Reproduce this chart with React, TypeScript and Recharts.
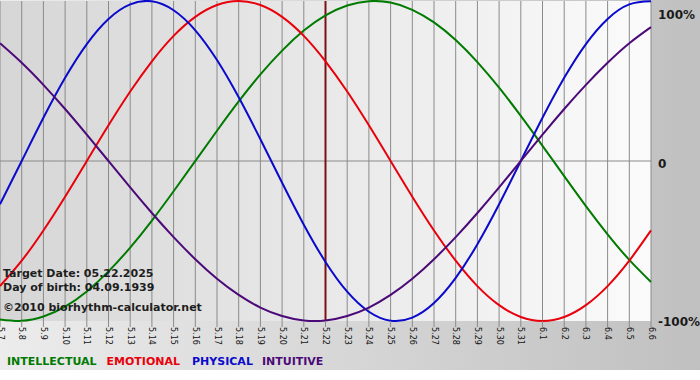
import React from "react";
import {
  LineChart,
  Line,
  XAxis,
  YAxis,
  CartesianGrid,
  ReferenceLine,
  Legend,
} from "recharts";

// one entry per day shown on the chart
const days = [
  "5.7", "5.8", "5.9", "5.10", "5.11", "5.12", "5.13", "5.14", "5.15", "5.16",
  "5.17", "5.18", "5.19", "5.20", "5.21", "5.22", "5.23", "5.24", "5.25", "5.26",
  "5.27", "5.28", "5.29", "5.30", "5.31", "6.1", "6.2", "6.3", "6.4", "6.5", "6.6",
];

const intellectual = [
  -0.99, -0.999, -0.972, -0.91, -0.815, -0.69, -0.541, -0.372, -0.189, 0.0,
  0.189, 0.372, 0.541, 0.69, 0.815, 0.91, 0.972, 0.999, 0.99, 0.945,
  0.866, 0.756, 0.618, 0.458, 0.282, 0.095, -0.095, -0.282, -0.458, -0.618, -0.756,
];

const emotional = [
  -0.782, -0.623, -0.434, -0.223, 0.0, 0.223, 0.434, 0.623, 0.782, 0.901,
  0.975, 1.0, 0.975, 0.901, 0.782, 0.623, 0.434, 0.223, 0.0, -0.223,
  -0.434, -0.623, -0.782, -0.901, -0.975, -1.0, -0.975, -0.901, -0.782, -0.623, -0.434,
];

const physical = [
  -0.27, 0.0, 0.27, 0.52, 0.731, 0.888, 0.979, 0.998, 0.942, 0.817,
  0.631, 0.398, 0.136, -0.136, -0.398, -0.631, -0.817, -0.942, -0.998, -0.979,
  -0.888, -0.731, -0.52, -0.27, 0.0, 0.27, 0.52, 0.731, 0.888, 0.979, 0.998,
];

const intuitive = [
  0.736, 0.614, 0.476, 0.325, 0.165, 0.0, -0.165, -0.325, -0.476, -0.614,
  -0.736, -0.837, -0.916, -0.969, -0.997, -0.997, -0.969, -0.916, -0.837, -0.736,
  -0.614, -0.476, -0.325, -0.165, 0.0, 0.165, 0.325, 0.476, 0.614, 0.736, 0.837,
];

const legendOrder = ["INTELLECTUAL", "EMOTIONAL", "PHYSICAL", "INTUITIVE"];
const legendGaps = [10, 12, 9, 0];
const yTicks = [-1, 0, 1];
const yTickLabels: Record<string, string> = { "1": "100%", "0": "0", "-1": "-100%" };
const targetDay = "5.22";
const infoLines = [
  "Target Date: 05.22.2025",
  "Day of birth: 04.09.1939",
  "\u00a92010 biorhythm-calculator.net",
];

const data = days.map((day, i) => ({
  day,
  intellectual: intellectual[i],
  emotional: emotional[i],
  physical: physical[i],
  intuitive: intuitive[i],
}));

const font = "'DejaVu Sans', Verdana, sans-serif";

const DayTick = ({ x, y, payload }: any) => (
  <text
    x={0}
    y={0}
    transform={`translate(${x},${y}) rotate(90)`}
    fontSize={8}
    fontFamily={font}
    fill="#111"
    textAnchor="start"
    dominantBaseline="central"
  >
    {payload.value}
  </text>
);

const PercentTick = ({ x, y, payload }: any) => {
  // the top label sits a bit lower so it is not cut off
  const shift = payload.value === 1 ? 6 : payload.value === 0 ? 3 : 1;
  return (
    <text
      x={x}
      y={y + shift}
      fontSize={12}
      fontWeight="bold"
      fontFamily={font}
      fill="#1a1a1a"
      textAnchor="start"
      dominantBaseline="central"
    >
      {yTickLabels[String(payload.value)]}
    </text>
  );
};

const renderLegend = ({ payload }: any) => {
  const items = [...(payload || [])].sort(
    (a: any, b: any) => legendOrder.indexOf(a.value) - legendOrder.indexOf(b.value)
  );
  return (
    <div
      style={{
        height: 20,
        lineHeight: "26px",
        paddingLeft: 7,
        fontFamily: font,
        fontSize: 11,
        fontWeight: "bold",
        whiteSpace: "nowrap",
        textAlign: "left",
      }}
    >
      {items.map((p: any, i: number) => (
        <span key={p.value} style={{ color: p.color, marginRight: legendGaps[i] }}>
          {p.value}
        </span>
      ))}
    </div>
  );
};

export default function App() {
  return (
    <div style={{ width: 700, height: 380, background: "#fff" }}>
      <style>{"body{margin:0}"}</style>
      <div
        style={{
          position: "relative",
          width: 700,
          height: 370,
          background: "linear-gradient(to right, #ececec, #c0c0c0)",
        }}
      >
        <LineChart
          width={700}
          height={370}
          data={data}
          margin={{ top: 1, right: 0, left: 0, bottom: 1 }}
        >
          <defs>
            <linearGradient id="plotBg" x1="0" y1="0" x2="1" y2="0">
              <stop offset="0%" stopColor="#d6d6d6" />
              <stop offset="100%" stopColor="#fbfbfb" />
            </linearGradient>
          </defs>
          <CartesianGrid
            horizontal={false}
            stroke="#8a8a8a"
            fill="url(#plotBg)"
            fillOpacity={1}
          />
          <XAxis
            dataKey="day"
            interval={0}
            height={28}
            axisLine={false}
            tickLine={{ stroke: "#8a8a8a" }}
            tickSize={6}
            tickMargin={0}
            tick={<DayTick />}
          />
          <YAxis
            orientation="right"
            domain={[-1, 1]}
            ticks={yTicks}
            width={49}
            axisLine={false}
            tickLine={false}
            tickSize={0}
            tickMargin={7}
            tick={<PercentTick />}
          />
          <ReferenceLine y={0} stroke="#8a8a8a" />
          <ReferenceLine x={targetDay} stroke="#7a1212" strokeWidth={2} />
          <Line
            type="natural"
            dataKey="intellectual"
            name="INTELLECTUAL"
            stroke="#007a00"
            strokeWidth={2}
            dot={false}
            isAnimationActive={false}
          />
          <Line
            type="natural"
            dataKey="emotional"
            name="EMOTIONAL"
            stroke="#e8000b"
            strokeWidth={2}
            dot={false}
            isAnimationActive={false}
          />
          <Line
            type="natural"
            dataKey="physical"
            name="PHYSICAL"
            stroke="#0a0acc"
            strokeWidth={2}
            dot={false}
            isAnimationActive={false}
          />
          <Line
            type="natural"
            dataKey="intuitive"
            name="INTUITIVE"
            stroke="#4b0a78"
            strokeWidth={2}
            dot={false}
            isAnimationActive={false}
          />
          <Legend
            verticalAlign="bottom"
            align="left"
            content={renderLegend}
          />
        </LineChart>
        <svg
          width={700}
          height={370}
          style={{ position: "absolute", left: 0, top: 0, pointerEvents: "none" }}
        >
          {infoLines.map((line, i) => (
            <text
              key={line}
              x={3}
              y={[277, 291, 311][i]}
              fontSize={11}
              fontWeight="bold"
              fontFamily={font}
              fill="#1e1e1e"
            >
              {line}
            </text>
          ))}
        </svg>
      </div>
    </div>
  );
}
